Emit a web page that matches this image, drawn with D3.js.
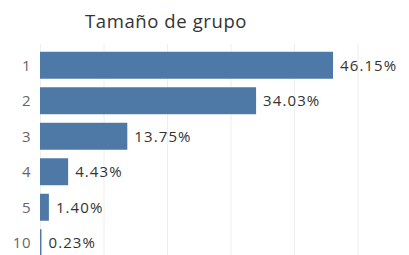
<!DOCTYPE html>
<html><head><meta charset="utf-8">
<script src="https://cdn.jsdelivr.net/npm/d3@7"></script>
<style>body{margin:0;background:#fff;} svg{display:block;}</style>
</head><body>
<svg id="c" width="409" height="255"></svg>
<script>
const categories = ["1","2","3","4","5","10"];
const values = [46.15, 34.03, 13.75, 4.43, 1.40, 0.23];
const gridTicks = [0,10,20,30,40,50];
const title = "Tamaño de grupo";

const svg = d3.select("#c");
const font = "'Open Sans', 'Noto Sans', sans-serif";
const x = d3.scaleLinear().domain([0,50]).range([40, 357.5]);
const y = d3.scaleBand().domain(categories).range([47.5, 260.5]).paddingInner(0.24).paddingOuter(0.12);

svg.append("g").selectAll("line").data(gridTicks).join("line")
  .attr("x1", d=>x(d)+0.5).attr("x2", d=>x(d)+0.5).attr("y1", 44).attr("y2", 255)
  .attr("stroke", "#eeeeee").attr("stroke-width", 1);

svg.append("text").attr("x", 85).attr("y", 28).text(title)
  .attr("font-family", font).attr("font-size", 18.5).attr("letter-spacing", 0.6).attr("fill", "#333");

svg.append("g").selectAll("rect").data(values).join("rect")
  .attr("x", x(0)).attr("y", (d,i)=>y(categories[i]))
  .attr("width", d=>x(d)-x(0)).attr("height", y.bandwidth())
  .attr("fill", "#4e79a7");

svg.append("g").selectAll("text").data(categories).join("text")
  .attr("x", 31).attr("y", d=>y(d)+y.bandwidth()/2).attr("dy","0.35em")
  .attr("text-anchor","end").text(d=>d)
  .attr("font-family", font).attr("font-size", 15).attr("letter-spacing", 0.5).attr("fill", "#666");

svg.append("g").selectAll("text").data(values).join("text")
  .attr("x", d=>x(d)+7).attr("y", (d,i)=>y(categories[i])+y.bandwidth()/2).attr("dy","0.35em")
  .text(d=>d.toFixed(2)+"%")
  .attr("font-family", font).attr("font-size", 15).attr("letter-spacing", 1.1).attr("fill", "#333");
</script>
</body></html>
